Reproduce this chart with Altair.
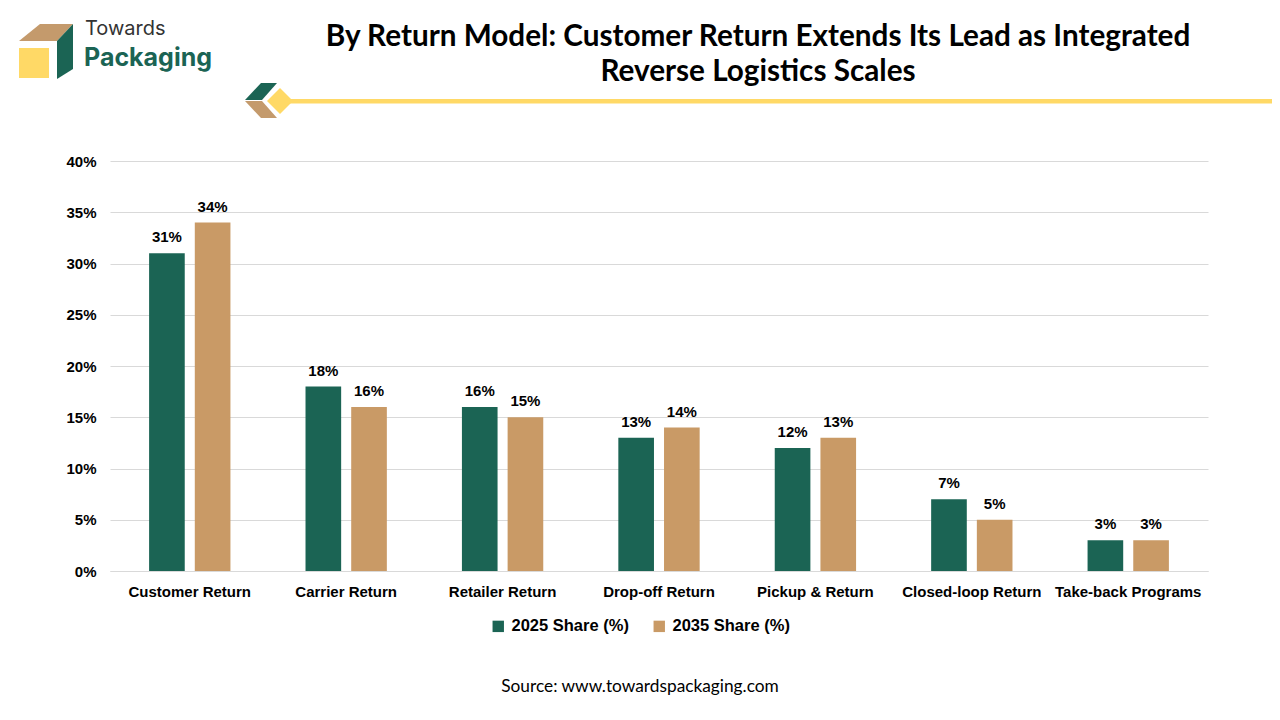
import altair as alt
import pandas as pd

categories = ["Customer Return", "Carrier Return", "Retailer Return", "Drop-off Return",
              "Pickup & Return", "Closed-loop Return", "Take-back Programs"]
share_2025 = [31, 18, 16, 13, 12, 7, 3]
share_2035 = [34, 16, 15, 14, 13, 5, 3]
series = ["2025 Share (%)", "2035 Share (%)"]
colors = ["#1B6454", "#C99A66"]
y_ticks = [0, 5, 10, 15, 20, 25, 30, 35, 40]

rows = []
for c, a, b in zip(categories, share_2025, share_2035):
    rows.append({"cat": c, "series": series[0], "val": a, "lab": f"{a}%"})
    rows.append({"cat": c, "series": series[1], "val": b, "lab": f"{b}%"})
df = pd.DataFrame(rows)

W, H = 1098, 410
PL, PT = 102, 153
OX, OY = -(PL + 8), -(PT + 8)  # page (0,0) in chart coords

x_enc = alt.X("cat:N", sort=categories, title=None,
              scale=alt.Scale(paddingInner=0.48, paddingOuter=0.25),
              axis=alt.Axis(labelAngle=0, ticks=False, labelPadding=13, labelFontSize=15,
                            labelFontWeight="bold", labelFont="Liberation Sans", labelColor="#000000",
                            domainColor="#d9d9d9", domainWidth=1, grid=False))
y_enc = alt.Y("val:Q", title=None,
              scale=alt.Scale(domain=[0, 40], nice=False),
              axis=alt.Axis(values=y_ticks, labelExpr="datum.value + '%'", ticks=False, domain=False,
                            labelPadding=14, labelFontSize=15, labelFontWeight="bold",
                            labelFont="Liberation Sans", labelColor="#000000",
                            gridColor="#d9d9d9", gridWidth=1))
off = alt.XOffset("series:N", sort=series, scale=alt.Scale(paddingInner=0.22, paddingOuter=0))

bars = alt.Chart(df).mark_bar().encode(
    x=x_enc, y=y_enc, xOffset=off,
    color=alt.Color("series:N", sort=series, scale=alt.Scale(domain=series, range=colors),
                    legend=alt.Legend(title=None, orient="none", direction="horizontal",
                                      legendX=380, legendY=457, symbolType="square", symbolSize=130,
                                      symbolStrokeWidth=0, labelFontSize=16.5, labelFontWeight="bold",
                                      labelFont="Liberation Sans", labelColor="#000000",
                                      columnPadding=22, symbolOffset=0, labelOffset=5)),
)
labels = alt.Chart(df).mark_text(baseline="bottom", dy=-8, fontSize=15, fontWeight="bold",
                                 font="Liberation Sans", color="#000000").encode(
    x=alt.X("cat:N", sort=categories), y="val:Q", xOffset=off, text="lab:N")

one = pd.DataFrame({"k": [0]})


def shape(path, color):
    return alt.Chart(one).mark_point(shape=path, filled=True, size=4, strokeWidth=0, opacity=1,
                                     color=color).encode(x=alt.value(OX), y=alt.value(OY))


def txt(t, px, py, size, weight="normal", color="#000000", font="Lato", align="center"):
    return alt.Chart(one).mark_text(text=t, fontSize=size, fontWeight=weight, color=color, font=font,
                                    align=align, baseline="alphabetic").encode(
        x=alt.value(px + OX), y=alt.value(py + OY))


decor = [
    shape("M19,41 L40,24 L73,24 L57,41 Z", "#C49A6C"),
    shape("M57,41 L73,24 L73,69 L57,79 Z", "#1B6454"),
    shape("M19,48 L49,48 L49,78 L19,78 Z", "#FFD966"),
    shape("M261,83 L277,83 L262,100 L245,100 Z", "#1B6454"),
    shape("M245,101 L262,101 L277,118 L261,118 Z", "#C49A6C"),
    shape("M280,88 L293,101 L280,114 L267,101 Z", "#FFD966"),
    shape("M288,99 L1290,99 L1290,103.5 L288,103.5 Z", "#FFD966"),
    txt("Towards", 85, 35, 20, color="#333333", font="Inter", align="left"),
    txt("Packaging", 84, 66, 25, weight="bold", color="#1B6454", font="Inter", align="left"),
    txt("By Return Model: Customer Return Extends Its Lead as Integrated", 758, 46, 29.7, weight="bold"),
    txt("Reverse Logistics Scales", 758, 81, 29.7, weight="bold"),
    txt("Source: www.towardspackaging.com", 640, 692, 17.3, color="#000000", font="Lato"),
]

chart = alt.layer(bars, labels, *decor).properties(
    width=W, height=H,
    background="#ffffff",
    autosize=alt.AutoSizeParams(type="none"),
    padding={"left": PL, "top": PT, "right": 64, "bottom": 141},
).configure_view(stroke=None)

chart.save("out.html", embed_options={"renderer": "svg", "actions": False})
